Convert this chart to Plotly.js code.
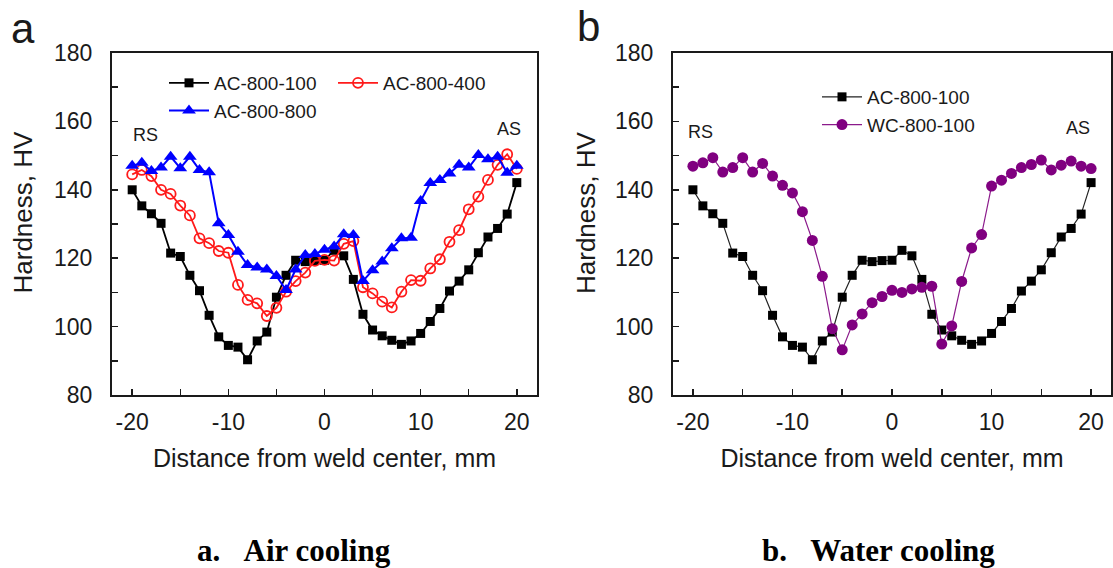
<!DOCTYPE html>
<html>
<head>
<meta charset="utf-8">
<script src="https://cdn.plot.ly/plotly-3.0.1.min.js"></script>
<style>html,body{margin:0;padding:0;background:#fff;}</style>
</head>
<body>
<div id="chart" style="width:1113px;height:568px;"></div>
<script>
// Distance from weld center, mm
const distance = [-20,-19,-18,-17,-16,-15,-14,-13,-12,-11,-10,-9,-8,-7,-6,-5,-4,-3,-2,-1,0,1,2,3,4,5,6,7,8,9,10,11,12,13,14,15,16,17,18,19,20];

// Hardness, HV
const ac800_100 = [140,135.3,133,130.2,121.5,120.5,115,110.5,103.3,97,94.5,94,90.3,95.8,98.4,108.6,115,119.4,119,119.3,119.4,122.3,120.7,113.8,103.6,99,97.3,96,94.8,95.8,98,101.5,105.3,110.4,113.3,116.6,121.6,126.2,128.7,132.9,142.1];
const ac800_400 = [144.5,145.8,144,140,138.8,135.4,132.5,125.8,124.4,122.1,121.6,112.2,107.8,106.8,103.1,105.5,110.2,113.3,115.8,119.2,119.5,119.3,124.2,125,111.5,109.7,107.3,105.6,110.2,113.6,113.4,117,119.7,124.8,128.2,134.3,138,142.9,147.3,150.4,146.1];
const ac800_800 = [147,147.9,145.5,146.5,149.7,146.3,149.7,145.8,145.1,130.2,126.8,121.9,118,117.3,116.7,114.8,110.7,116.7,120.9,121.2,122.5,123.4,127,126.8,113.3,116.5,119,122.9,125.8,126,136.7,142,142.9,144.8,147.3,146.5,150.2,148.9,149.7,145,147];
const wc800_100 = [146.9,147.9,149.4,145.2,146.5,149.4,145.2,147.7,144,141.3,139.1,133.6,125.2,114.7,99.4,93.2,100.5,103.7,107,108.8,110.6,110,111,111.5,111.8,94.9,100.2,113.2,123,126.9,141.1,142.8,144.8,146.5,147.4,148.7,145.8,147.2,148.4,146.9,146.2];

// Tick labels
const xTickVals = [-20, -10, 0, 10, 20];
const xTickText = ['-20', '-10', '0', '10', '20'];
const yTickVals = [80, 100, 120, 140, 160, 180];
const yTickText = ['80', '100', '120', '140', '160', '180'];

const FONT = 'Arial, "Liberation Sans", sans-serif';
const SERIF = '"Times New Roman", "Liberation Serif", serif';

const traces = [
  {x: distance, y: ac800_100, name: 'AC-800-100', type: 'scatter', mode: 'lines+markers',
   xaxis: 'x', yaxis: 'y', legend: 'legend',
   line: {color: '#000000', width: 1.8}, marker: {symbol: 'square', size: 9, color: '#000000'}},
  {x: distance, y: ac800_400, name: 'AC-800-400', type: 'scatter', mode: 'lines+markers',
   xaxis: 'x', yaxis: 'y', legend: 'legend2',
   line: {color: '#ff1a1a', width: 1.8}, marker: {symbol: 'circle-open', size: 10, color: '#ff1a1a', line: {width: 1.8}}},
  {x: distance, y: ac800_800, name: 'AC-800-800', type: 'scatter', mode: 'lines+markers',
   xaxis: 'x', yaxis: 'y', legend: 'legend',
   line: {color: '#0000ff', width: 2}, marker: {symbol: 'triangle-up', size: 12, color: '#0000ff'}},
  {x: distance, y: ac800_100, name: 'AC-800-100', type: 'scatter', mode: 'lines+markers',
   xaxis: 'x2', yaxis: 'y2', legend: 'legend3',
   line: {color: '#222222', width: 1.2}, marker: {symbol: 'square', size: 9, color: '#000000'}},
  {x: distance, y: wc800_100, name: 'WC-800-100', type: 'scatter', mode: 'lines+markers',
   xaxis: 'x2', yaxis: 'y2', legend: 'legend3',
   line: {color: '#8b1a8b', width: 1.2}, marker: {symbol: 'circle', size: 11, color: '#800080'}}
];

const yDom = [1 - 395/568, 1 - 53/568];
function xax(dom, rng) {
  return {
    domain: dom, range: rng, showline: true, linewidth: 2, linecolor: '#1a1a1a', mirror: true,
    ticks: 'inside', ticklen: 6, tickwidth: 1.5, tickcolor: '#1a1a1a',
    tickmode: 'array', tickvals: xTickVals, ticktext: xTickText,
    minor: {tickmode: 'linear', tick0: 0, dtick: 5, ticks: 'inside', ticklen: 6, tickwidth: 1.5, tickcolor: '#1a1a1a', showgrid: false},
    showgrid: false, zeroline: false, ticklabelstandoff: 5,
    tickfont: {family: FONT, size: 23, color: '#1a1a1a'},
    title: {text: 'Distance from weld center, mm', font: {family: FONT, size: 25, color: '#1a1a1a'}, standoff: 16}
  };
}
function yax(anchor) {
  return {
    domain: yDom, range: [80, 180], anchor: anchor, showline: true, linewidth: 2, linecolor: '#1a1a1a', mirror: true,
    ticks: 'inside', ticklen: 6, tickwidth: 1.5, tickcolor: '#1a1a1a',
    tickmode: 'array', tickvals: yTickVals, ticktext: yTickText,
    minor: {tickmode: 'linear', tick0: 80, dtick: 10, ticks: 'inside', ticklen: 6, tickwidth: 1.5, tickcolor: '#1a1a1a', showgrid: false},
    showgrid: false, zeroline: false, ticklabelstandoff: 13,
    tickfont: {family: FONT, size: 23, color: '#1a1a1a'}
  };
}

const legFont = {family: FONT, size: 19, color: '#1a1a1a'};
const annFont = {family: FONT, size: 18, color: '#1a1a1a'};

const layout = {
  width: 1113, height: 568,
  margin: {l: 0, r: 0, t: 0, b: 0},
  paper_bgcolor: '#ffffff', plot_bgcolor: '#ffffff',
  showlegend: true,
  xaxis: Object.assign(xax([112/1113, 537/1113], [-22.1, 22.1]), {anchor: 'y'}),
  yaxis: yax('x'),
  xaxis2: Object.assign(xax([673/1113, 1111/1113], [-22, 22]), {anchor: 'y2'}),
  yaxis2: yax('x2'),
  legend: {x: 164/1113, y: 1 - 64/568, xanchor: 'left', yanchor: 'top', bgcolor: 'rgba(0,0,0,0)',
           font: legFont, itemwidth: 40, tracegroupgap: 0},
  legend2: {x: 333/1113, y: 1 - 64/568, xanchor: 'left', yanchor: 'top', bgcolor: 'rgba(0,0,0,0)',
           font: legFont, itemwidth: 40},
  legend3: {x: 817/1113, y: 1 - 78/568, xanchor: 'left', yanchor: 'top', bgcolor: 'rgba(0,0,0,0)',
           font: legFont, itemwidth: 40},
  annotations: [
    {text: 'Hardness, HV', xref: 'paper', yref: 'paper', x: 22.5/1113, y: 1 - 213/568, textangle: -90,
     showarrow: false, font: {family: FONT, size: 26, color: '#1a1a1a'}, xanchor: 'center', yanchor: 'middle'},
    {text: 'Hardness, HV', xref: 'paper', yref: 'paper', x: 586/1113, y: 1 - 213/568, textangle: -90,
     showarrow: false, font: {family: FONT, size: 26, color: '#1a1a1a'}, xanchor: 'center', yanchor: 'middle'},
    {text: 'RS', xref: 'x', yref: 'y', x: -18.6, y: 156, showarrow: false, font: annFont},
    {text: 'AS', xref: 'x', yref: 'y', x: 19.2, y: 157.8, showarrow: false, font: annFont},
    {text: 'RS', xref: 'x2', yref: 'y2', x: -19.2, y: 156.9, showarrow: false, font: annFont},
    {text: 'AS', xref: 'x2', yref: 'y2', x: 18.7, y: 158, showarrow: false, font: annFont},
    {text: 'a', xref: 'paper', yref: 'paper', x: 23/1113, y: 1 - 29/568, showarrow: false,
     font: {family: FONT, size: 42, color: '#1a1a1a'}, xanchor: 'center', yanchor: 'middle'},
    {text: 'b', xref: 'paper', yref: 'paper', x: 588/1113, y: 1 - 27/568, showarrow: false,
     font: {family: FONT, size: 42, color: '#1a1a1a'}, xanchor: 'center', yanchor: 'middle'},
    {text: '<b>a.\u00a0\u00a0\u00a0Air cooling</b>', xref: 'paper', yref: 'paper', x: 294/1113, y: 1 - 550/568,
     showarrow: false, font: {family: SERIF, size: 31, color: '#000000'}, xanchor: 'center', yanchor: 'middle'},
    {text: '<b>b.\u00a0\u00a0\u00a0Water cooling</b>', xref: 'paper', yref: 'paper', x: 878/1113, y: 1 - 550/568,
     showarrow: false, font: {family: SERIF, size: 31, color: '#000000'}, xanchor: 'center', yanchor: 'middle'}
  ]
};

Plotly.newPlot('chart', traces, layout, {displayModeBar: false, staticPlot: true});
</script>
</body>
</html>
